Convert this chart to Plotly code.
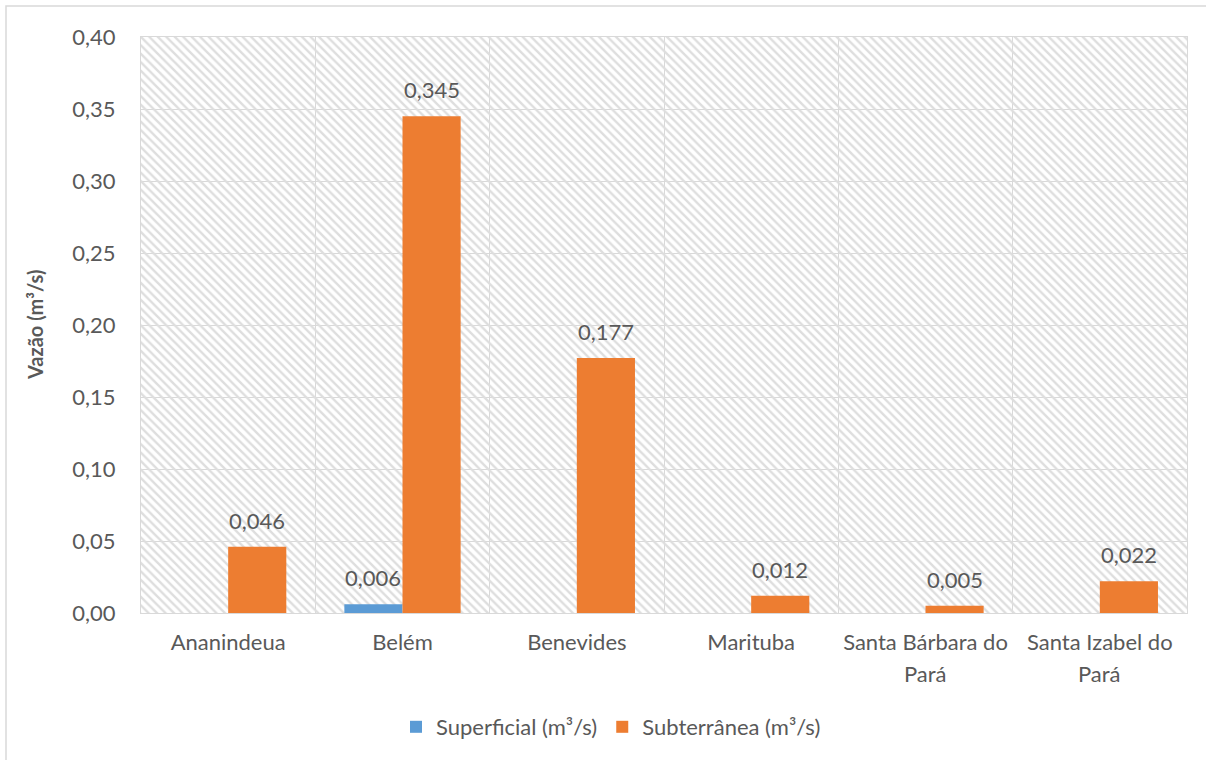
import plotly.graph_objects as go

# Municípios e vazões outorgadas (m³/s)
municipios = ["Ananindeua", "Belém", "Benevides", "Marituba",
              "Santa Bárbara do Pará", "Santa Izabel do Pará"]
rotulo_linha1 = ["Ananindeua", "Belém", "Benevides", "Marituba",
                 "Santa Bárbara do", "Santa Izabel do"]
rotulo_linha2 = ["", "", "", "", "Pará", "Pará"]
superficial = [0.0, 0.006, 0.0, 0.0, 0.0, 0.0]
subterranea = [0.046, 0.345, 0.177, 0.012, 0.005, 0.022]
y_ticks = [0.0, 0.05, 0.10, 0.15, 0.20, 0.25, 0.30, 0.35, 0.40]

AZUL = "#5B9BD5"
LARANJA = "#ED7D31"
CINZA_TXT = "#595959"
CINZA_GRADE = "#d9d9d9"
FONTE = "Lato"
TAM = 22

# plot area in pixels
L, R, T, B = 141, 1187, 37, 613
W, H = 1206, 760
pw, ph = R - L, B - T

fig = go.Figure()

# hatched plot background (main hidden axes, drawn beneath the bars)
fig.add_trace(go.Scatter(
    x=[0, 1, 1, 0, 0], y=[0, 0, 1, 1, 0], xaxis="x", yaxis="y",
    mode="lines", line=dict(width=0), fill="toself",
    fillcolor="rgba(0,0,0,0)",
    fillpattern=dict(shape="\\", fgcolor="#dedede", bgcolor="rgba(0,0,0,0)",
                     size=6, solidity=0.4, fgopacity=1),
    hoverinfo="skip", showlegend=False))

fig.add_trace(go.Bar(
    name="Superficial (m³/s)", x=municipios, y=superficial,
    xaxis="x2", yaxis="y2", marker=dict(color=AZUL, line=dict(width=0))))
fig.add_trace(go.Bar(
    name="Subterrânea (m³/s)", x=municipios, y=subterranea,
    xaxis="x2", yaxis="y2", marker=dict(color=LARANJA, line=dict(width=0))))

annotations = []
# value labels above bars (zero values left unlabeled)
bar_off = 1 / 6
for i, m in enumerate(municipios):
    for val, off in ((superficial[i], -bar_off), (subterranea[i], bar_off)):
        if val > 0:
            annotations.append(dict(
                x=i + off, y=val, xref="x2", yref="y2",
                text=f"{val:.3f}".replace(".", ","), showarrow=False,
                yanchor="bottom", yshift=11,
                font=dict(family=FONTE, size=TAM, color=CINZA_TXT)))
    if rotulo_linha2[i]:
        annotations.append(dict(
            x=i, y=(B - 673) / ph, xref="x2", yref="paper",
            text=rotulo_linha2[i], showarrow=False, yanchor="middle",
            font=dict(family=FONTE, size=TAM, color=CINZA_TXT)))

# y-axis title
annotations.append(dict(
    x=(35 - L) / pw, y=0.5, xref="paper", yref="paper",
    text="<b>Vazão (m³/s)</b>", textangle=-90, showarrow=False,
    xanchor="center", yanchor="middle",
    font=dict(family=FONTE, size=20, color=CINZA_TXT)))

# outer chart border
shapes = [dict(type="rect", xref="paper", yref="paper",
               x0=(6 - L) / pw, x1=(W + 10 - L) / pw,
               y0=(B - (H + 10)) / ph, y1=(B - 6) / ph,
               line=dict(color=CINZA_GRADE, width=1.5), layer="below")]

fig.update_layout(
    width=W, height=H,
    margin=dict(l=L, r=W - R, t=T, b=H - B),
    paper_bgcolor="white", plot_bgcolor="white",
    separators=",.",
    barmode="group", bargap=0.333, bargroupgap=0,
    font=dict(family=FONTE, size=TAM, color=CINZA_TXT),
    xaxis=dict(range=[0, 1], visible=False, fixedrange=True),
    yaxis=dict(range=[0, 1], visible=False, fixedrange=True),
    xaxis2=dict(overlaying="x", type="category",
                tickmode="array", tickvals=municipios, ticktext=rotulo_linha1,
                tickson="boundaries", ticks="", showgrid=True,
                gridcolor=CINZA_GRADE, gridwidth=1,
                showline=True, linecolor=CINZA_GRADE, linewidth=1, mirror=True,
                tickfont=dict(family=FONTE, size=TAM, color=CINZA_TXT),
                ticklabelstandoff=10, range=[-0.5, 5.5]),
    yaxis2=dict(overlaying="y", range=[0, 0.4], tickvals=y_ticks,
                tickformat=".2f", showgrid=True, gridcolor=CINZA_GRADE,
                gridwidth=1, zeroline=False, ticks="",
                showline=True, linecolor=CINZA_GRADE, linewidth=1, mirror=True,
                tickfont=dict(family=FONTE, size=TAM, color=CINZA_TXT),
                ticklabelstandoff=20),
    legend=dict(orientation="h", x=(611 - L) / pw, xanchor="center",
                y=(B - 727) / ph, yanchor="middle",
                font=dict(family=FONTE, size=TAM, color=CINZA_TXT),
                itemwidth=30, traceorder="normal"),
    annotations=annotations,
    shapes=shapes,
)

fig.write_html("out.html")
